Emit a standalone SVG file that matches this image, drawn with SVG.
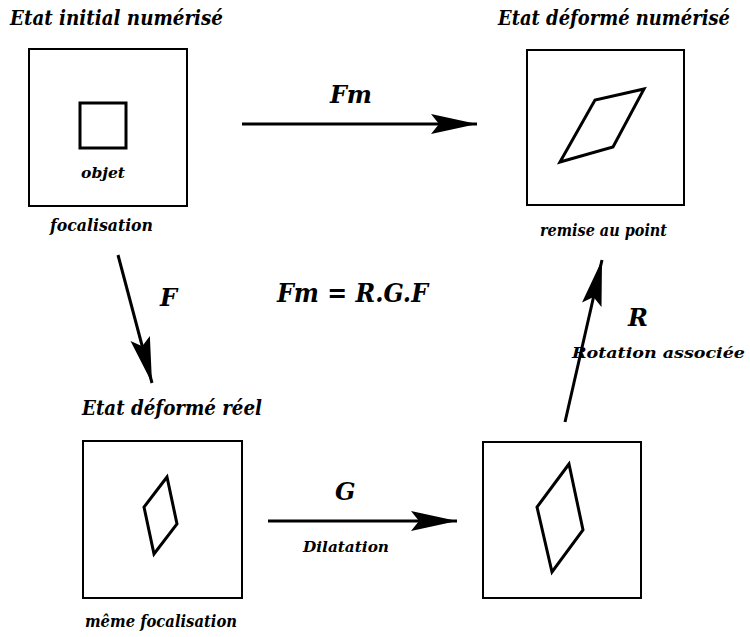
<svg xmlns="http://www.w3.org/2000/svg" width="750" height="637" viewBox="0 0 750 637">
<style>
.t{font-family:"DejaVu Serif","Liberation Serif","Times New Roman",serif;font-style:italic;font-weight:bold;fill:#000}
.box{fill:#fff;stroke:#000;stroke-width:2}
.shape{fill:none;stroke:#000;stroke-width:3;stroke-linejoin:miter}
.arr{fill:none;stroke:#000;stroke-width:3;marker-end:url(#ah)}
</style>
<defs>
<marker id="ah" markerWidth="50" markerHeight="24" refX="46" refY="12" orient="auto" markerUnits="userSpaceOnUse">
<path d="M0,2 L46,12 L0,22 L8,12 Z" fill="#000"/>
</marker>
</defs>
<rect width="750" height="637" fill="#fff"/>
<g id="initial">
<text class="t" x="10" y="25" font-size="21" textLength="213" lengthAdjust="spacingAndGlyphs">Etat initial numérisé</text>
<rect class="box" x="29" y="49" width="158" height="157"/>
<rect class="shape" x="80" y="103" width="46" height="45"/>
<text class="t" x="81" y="178" font-size="15" textLength="44" lengthAdjust="spacingAndGlyphs">objet</text>
<text class="t" x="50" y="231" font-size="16" textLength="103" lengthAdjust="spacingAndGlyphs">focalisation</text>
</g>
<g id="deforme-numerise">
<text class="t" x="498" y="25" font-size="21" textLength="232" lengthAdjust="spacingAndGlyphs">Etat déformé numérisé</text>
<rect class="box" x="527" y="50" width="157" height="155"/>
<polygon class="shape" points="560,162 595,100 644,89 613,147"/>
<text class="t" x="540" y="236" font-size="16" textLength="127" lengthAdjust="spacingAndGlyphs">remise au point</text>
</g>
<g id="deforme-reel">
<text class="t" x="82" y="415" font-size="21" textLength="180" lengthAdjust="spacingAndGlyphs">Etat déformé réel</text>
<rect class="box" x="83" y="441" width="159" height="157"/>
<polygon class="shape" points="167,477 144,507 154,554 177,524"/>
<text class="t" x="85" y="627" font-size="16" textLength="152" lengthAdjust="spacingAndGlyphs">même focalisation</text>
</g>
<g id="dilate">
<rect class="box" x="483" y="442" width="158" height="156"/>
<polygon class="shape" points="569,464 537,507 552,572 583,530"/>
</g>
<g id="formula">
<text class="t" x="277" y="302" font-size="26" textLength="151" lengthAdjust="spacingAndGlyphs">Fm = R.G.F</text>
</g>
<g id="connectors">
<line class="arr" x1="242" y1="124" x2="477" y2="124"/>
<text class="t" x="330" y="103" font-size="24" textLength="42" lengthAdjust="spacingAndGlyphs">Fm</text>
<line class="arr" x1="118" y1="255" x2="152" y2="383"/>
<text class="t" x="160" y="306" font-size="24">F</text>
<line class="arr" x1="268" y1="521" x2="457" y2="521"/>
<text class="t" x="335" y="500" font-size="24">G</text>
<text class="t" x="303" y="552" font-size="14" textLength="86" lengthAdjust="spacingAndGlyphs">Dilatation</text>
<line class="arr" x1="565" y1="422" x2="602" y2="260"/>
<text class="t" x="628" y="326" font-size="24">R</text>
<text class="t" x="572" y="358" font-size="15" textLength="173" lengthAdjust="spacingAndGlyphs">Rotation associée</text>
</g>
</svg>
